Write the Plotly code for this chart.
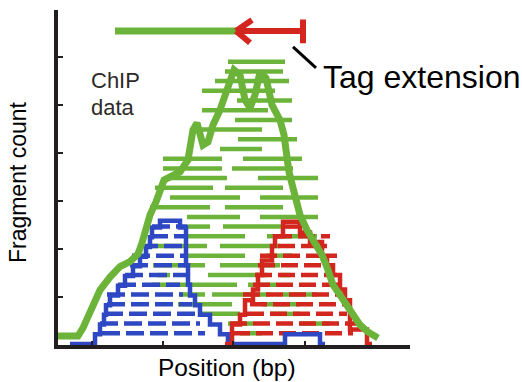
import plotly.graph_objects as go

# ---------------- data (x = position in bp, y = fragment count row) ----------------
green_row = [29, 28, 27, 26, 25, 24, 23, 22, 21, 20,
             19, 19, 18, 18, 17, 17, 16, 16, 15, 15, 14, 14, 13, 13,
             12, 12, 11, 11, 10, 10, 9, 9, 8, 8, 7, 7, 7, 6, 6,
             5, 5, 5, 4, 4, 3, 3, 2, 2, 1]
green_start = [171, 168, 158, 145, 180, 145, 178, 143, 181, 163,
               106, 186, 106, 175, 110, 201, 98, 168, 113, 203, 93, 168, 130, 203,
               130, 166, 130, 210, 90, 163, 130, 210, 96, 163, 100, 151, 223, 95, 191,
               123, 155, 226, 121, 205, 145, 213, 171, 243, 183]
green_end = [228, 226, 232, 218, 235, 211, 235, 205, 240, 205,
             165, 245, 165, 236, 170, 261, 156, 226, 183, 261, 153, 226, 183, 261,
             153, 225, 188, 260, 150, 223, 188, 235, 148, 223, 113, 211, 233, 180, 220,
             148, 213, 260, 175, 243, 183, 243, 196, 273, 205]

blue_row = [1, 2, 3, 4, 5, 6, 7, 8, 9, 10, 11, 12]
blue_start = [45, 43, 48, 50, 50, 61, 68, 73, 75, 83, 93, 95]
blue_end = [148, 143, 140, 135, 126, 123, 133, 128, 130, 126, 130, 130]

red_row = [1, 2, 3, 4, 5, 6, 7, 8, 9, 10, 11, 12]
red_start = [176, 173, 190, 193, 186, 196, 198, 201, 203, 221, 218, 228]
red_end = [296, 300, 290, 290, 286, 283, 280, 275, 280, 270, 273, 243]

# coverage profiles
green_cov_x = [0, 21, 26, 33, 38, 43, 53, 63, 73, 81, 85, 89, 93, 99, 103, 107, 115, 123, 131,
               136, 140, 146, 151, 156, 163, 168, 173, 177, 183, 188, 193, 198, 203, 209, 215,
               223, 227, 229, 232, 236, 240, 243, 250, 258, 265, 271, 276, 283, 290, 298, 303,
               311, 321]
green_cov_y = [0.72, 0.72, 1.55, 3.2, 4.43, 5.46, 6.8, 7.88, 8.39, 9.18, 10.31, 11.86, 13.2,
               14.54, 15.78, 16.8, 17.22, 17.63, 18.87, 21.96, 22.68, 20.41, 20.73, 22.47,
               24.02, 25.57, 27.32, 28.15, 27.63, 25.05, 24.23, 25.57, 27.94, 27.32, 24.54,
               22.99, 21.45, 19.38, 17.63, 16.0, 14.23, 13.2, 11.65, 10.41, 9.07, 7.52, 5.98,
               4.95, 3.92, 2.78, 1.86, 1.13, 0.52]

blue_cov_x = [13, 38, 43, 47, 49, 53, 61, 68, 76, 83, 89, 93, 95, 103, 123, 129, 131, 133,
              138, 143, 153, 163, 171, 228, 263, 268]
blue_cov_y = [-0.1, 0.9, 1.9, 2.9, 3.9, 4.9, 5.9, 6.9, 7.9, 8.9, 9.9, 10.9, 11.9, 12.6, 11.9,
              8.0, 6.0, 4.9, 3.9, 2.9, 1.9, 0.9, -0.1, 0.9, -0.1, -0.1]

red_cov_x = [168, 175, 183, 188, 196, 201, 205, 215, 218, 226, 243, 253, 265, 270, 276, 283,
             288, 293, 310, 315]
red_cov_y = [-0.1, 1.9, 2.9, 4.4, 5.5, 7.0, 8.5, 10.0, 11.0, 12.5, 11.4, 10.4, 9.0, 8.0, 7.0,
             5.5, 4.4, 1.4, -0.1, -0.1]

x_ticks = [35, 106, 176, 248]

# tag extension legend (fragment start, tag start, tag end)
legend_fragment = [58, 183]
legend_tag = [183, 246]

# ---------------- styling ----------------
GREEN = "#6cb33a"
BLUE = "#2e47c2"
RED = "#d2261f"
INK = "#231f20"
FONT = "Liberation Sans, Arial, Helvetica, sans-serif"


def segments(rows, starts, ends):
    xs, ys = [], []
    for r, s, e in zip(rows, starts, ends):
        xs += [s, e, None]
        ys += [r, r, None]
    return xs, ys


fig = go.Figure()

gx, gy = segments(green_row, green_start, green_end)
fig.add_trace(go.Scatter(x=gx, y=gy, mode="lines", line=dict(color=GREEN, width=4.5),
                         hoverinfo="skip"))

bx, by = segments(blue_row, blue_start, blue_end)
fig.add_trace(go.Scatter(x=bx, y=by, mode="lines",
                         line=dict(color=BLUE, width=4.5, dash="18px,6px"), hoverinfo="skip"))

rx, ry = segments(red_row, red_start, red_end)
fig.add_trace(go.Scatter(x=rx, y=ry, mode="lines",
                         line=dict(color=RED, width=4.5, dash="17px,6px"), hoverinfo="skip"))

fig.add_trace(go.Scatter(x=blue_cov_x, y=blue_cov_y, mode="lines",
                         line=dict(color=BLUE, width=4.5, shape="hv"), hoverinfo="skip"))
fig.add_trace(go.Scatter(x=red_cov_x, y=red_cov_y, mode="lines",
                         line=dict(color=RED, width=4.5, shape="hv"), hoverinfo="skip"))
fig.add_trace(go.Scatter(x=green_cov_x, y=green_cov_y, mode="lines",
                         line=dict(color=GREEN, width=7), hoverinfo="skip"))

# legend illustration (fragment = green, tag = red with arrowhead and end bar)
y_leg = 32.17
fig.add_shape(type="line", x0=legend_fragment[0], x1=legend_fragment[1], y0=y_leg, y1=y_leg,
              line=dict(color=GREEN, width=7), layer="above")
fig.add_shape(type="line", x0=legend_tag[0], x1=legend_tag[1], y0=y_leg, y1=y_leg,
              line=dict(color=RED, width=6), layer="above")
fig.add_shape(type="line", x0=legend_tag[0] - 4, x1=legend_tag[0] + 12, y0=y_leg, y1=33.3,
              line=dict(color=RED, width=6), layer="above")
fig.add_shape(type="line", x0=legend_tag[0] - 4, x1=legend_tag[0] + 10, y0=y_leg, y1=30.95,
              line=dict(color=RED, width=6), layer="above")
fig.add_shape(type="line", x0=legend_tag[1], x1=legend_tag[1], y0=30.9, y1=33.35,
              line=dict(color=RED, width=6), layer="above")
fig.add_shape(type="line", x0=236, x1=259, y0=30.52, y1=28.36,
              line=dict(color="black", width=3), layer="above")

# text in data coordinates (inside the axis ranges)
ann = [
    dict(x=32, y=27.1, text="ChIP", xanchor="left", yanchor="middle",
         font=dict(size=22, color="#2e2a2a", family=FONT)),
    dict(x=32, y=24.25, text="data", xanchor="left", yanchor="middle",
         font=dict(size=22, color="#2e2a2a", family=FONT)),
    dict(x=264, y=27.42, text="Tag extension", xanchor="left", yanchor="middle",
         font=dict(size=32, color="black", family=FONT)),
]
for a in ann:
    fig.add_annotation(showarrow=False, xref="x", yref="y", **a)

# axis titles in paper coordinates (outside the plotting area)
fig.add_annotation(x=0.48, y=-0.066, xref="paper", yref="paper", text="Position (bp)",
                   showarrow=False, xanchor="center", yanchor="middle",
                   font=dict(size=24.5, color="black", family=FONT))
fig.add_annotation(x=-0.113, y=0.487, xref="paper", yref="paper", text="Fragment count",
                   showarrow=False, textangle=-90, xanchor="center", yanchor="middle",
                   font=dict(size=23, color="black", family=FONT))

fig.update_layout(
    width=522, height=382,
    margin=dict(l=58, r=112, t=10, b=37),
    paper_bgcolor="white", plot_bgcolor="white",
    showlegend=False,
    xaxis=dict(range=[1, 353], showline=True, linewidth=4, linecolor=INK, ticks="inside",
               tickvals=x_ticks, ticklen=4, tickwidth=2, tickcolor=INK, showticklabels=False,
               showgrid=False, zeroline=False, fixedrange=True),
    yaxis=dict(range=[-0.21, 34.33], showline=True, linewidth=4, linecolor=INK, ticks="inside",
               tick0=4.74, dtick=4.95, ticklen=5, tickwidth=2, tickcolor=INK,
               showticklabels=False, showgrid=False, zeroline=False, fixedrange=True),
)

fig.write_html("out.html", config={"displayModeBar": False},
               post_script="document.body.style.margin='0';document.body.style.overflow='hidden';")
